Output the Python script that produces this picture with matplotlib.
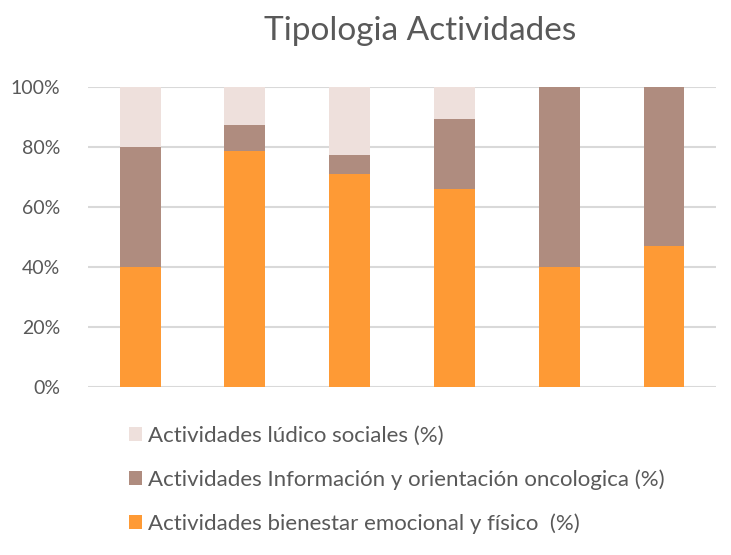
import matplotlib.pyplot as plt
import numpy as np

plt.rcParams['font.family'] = ['Lato', 'DejaVu Sans']

# values (percent of each bar)
categories = ["1", "2", "3", "4", "5", "6"]
bienestar = [40.0, 78.7, 71.1, 66.1, 40.0, 47.1]
informacion = [40.0, 8.8, 6.1, 23.2, 60.0, 52.9]
ludico = [20.0, 12.5, 22.8, 10.7, 0.0, 0.0]

labels = ["Actividades bienestar emocional y físico  (%)",
          "Actividades Información y orientación oncologica (%)",
          "Actividades lúdico sociales (%)"]
colors = ["#FE9A35", "#AF8C7F", "#EEE0DC"]
text_color = "#595959"

fig = plt.figure(figsize=(7.31, 5.55), dpi=100)
ax = fig.add_axes([0.12, 0.303, 0.86, 0.54])

x = np.arange(len(categories))
w = 0.39
b1 = np.array(bienestar) / 100
b2 = np.array(informacion) / 100
b3 = np.array(ludico) / 100
h1 = ax.bar(x, b1, w, color=colors[0], label=labels[0], zorder=3)
h2 = ax.bar(x, b2, w, bottom=b1, color=colors[1], label=labels[1], zorder=3)
h3 = ax.bar(x, b3, w, bottom=b1 + b2, color=colors[2], label=labels[2], zorder=3)

ax.set_xlim(-0.5, len(categories) - 0.5)
ax.set_ylim(0, 1)
ax.set_yticks(np.arange(0, 1.01, 0.2))
ax.set_yticklabels(["%d%%" % v for v in range(0, 101, 20)], fontsize=14, color=text_color)
ax.set_xticks([])
ax.yaxis.grid(True, color="#D9D9D9", linewidth=1.5, zorder=0)
ax.tick_params(axis='y', length=0, pad=20)
for s in ax.spines.values():
    s.set_visible(False)

fig.text(0.575, 0.945, "Tipologia Actividades", ha='center', va='center',
         fontsize=24, color=text_color)

fig.legend([h3, h2, h1], [labels[2], labels[1], labels[0]],
           loc='upper left', bbox_to_anchor=(0.176, 0.233), frameon=False,
           fontsize=16, labelcolor=text_color, handlelength=0.6, handleheight=0.6,
           handletextpad=0.25, labelspacing=1.06, borderpad=0, borderaxespad=0)

fig.savefig("out.png", dpi=100)
